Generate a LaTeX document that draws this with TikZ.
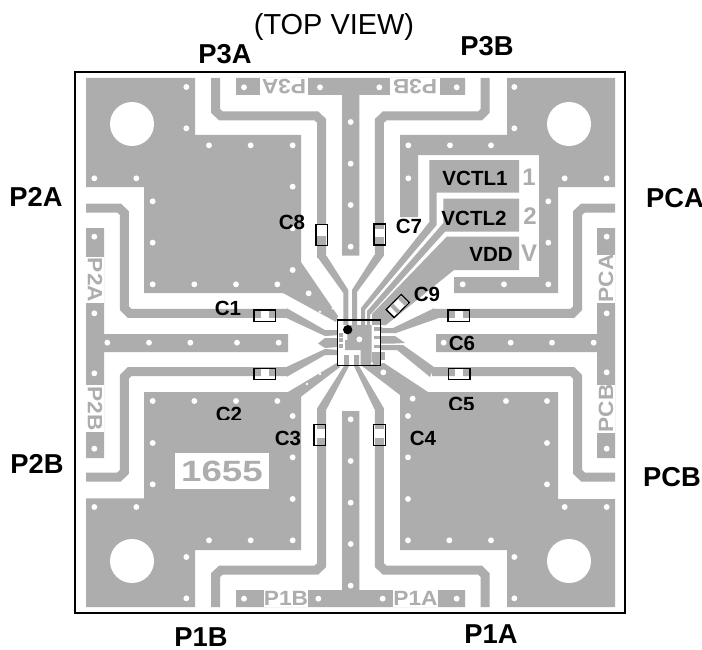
\documentclass[tikz,border=0pt]{standalone}
\usepackage{fontspec}
\setmainfont{Liberation Sans}
\definecolor{cu}{HTML}{ADADAD}
\newcommand\blk[1]{\scalebox{1.1}[1]{\bfseries #1}}
\tikzset{
  cu/.style={fill=cu,draw=none},
  trace/.style={draw=cu,line width=6.75pt,line cap=butt,line join=miter},
  via/.style={fill=white,draw=none},
  pin/.style={draw=cu,line width=2.4pt,line cap=butt},
  lab/.style={font=\fontsize{20.5}{22}\selectfont\bfseries,inner sep=0pt},
  clab/.style={font=\fontsize{15.4}{16}\selectfont\bfseries,inner sep=0pt},
  silk/.style={text=cu,fill=white,inner sep=0pt,font=\fontsize{15.5}{16}\selectfont},
  capa/.style={draw=black,line width=1pt,fill=none,inner sep=0pt,minimum width=21.3*0.75pt,minimum height=11.3*0.75pt},
  capb/.style={capa,minimum width=11.5*0.75pt,minimum height=21*0.75pt},
}
\begin{document}
\begin{tikzpicture}[x=0.75pt,y=-0.75pt]
\useasboundingbox (0,0) rectangle (702,649);
\fill[white] (0,0) rectangle (702,649);
% ground pads
\fill[cu] (86,78)--(195,78)--(195,135)--(301,135)--(301,262)--(338,316)--(336,322)--(283,293)--(144,293)--(144,187)--(86,187)--cycle;
\fill[cu] (86,607)--(195,607)--(195,550)--(301,550)--(301,396.7)--(340,367)--(336.7,363)--(288,392)--(144,392)--(144,498.3)--(86,498.3)--cycle;
\fill[cu] (507,607)--(615,607)--(615,499)--(558,499)--(558,392)--(428,392)--(384,363)--(362,366)--(400,395)--(400,550)--(507,550)--cycle;
\fill[cu] (507,78)--(615,78)--(615,187)--(558,187)--(558,293)--(454,293)--(454,277)--(539,277)--(539,155)--(418,155)--(418,217)--(400,217)--(400,135)--(507,135)--cycle;
% centre stems and edge strips
\fill[cu] (236,78)--(465,78)--(465,95)--(359.3,95)--(359.3,255.7)--(342,255.7)--(342,95)--(236,95)--cycle;
\fill[cu] (236,607)--(465,607)--(465,590)--(359.3,590)--(359.3,411)--(342,411)--(342,590)--(236,590)--cycle;
\fill[cu] (86,228)--(104,228)--(104,334)--(288,334)--(288,352)--(104,352)--(104,458)--(86,458)--cycle;
\fill[cu] (615,228)--(597,228)--(597,334)--(436,334)--(436,352)--(597,352)--(597,458)--(615,458)--cycle;
% traces
\draw[trace] (215.7,78)--(215.7,111)--(221,116)--(316.5,116)--(321.7,121)--(321.7,258);
\draw[trace] (485,78)--(485,111)--(480,116)--(384.5,116)--(379.3,121)--(379.3,256);
\draw[trace] (215.7,607)--(215.7,575)--(221,570)--(316.5,570)--(321.7,565)--(321.7,409);
\draw[trace] (485,607)--(485,575)--(480,570)--(384.5,570)--(379.3,565)--(379.3,409);
\draw[trace] (86,208)--(119,208)--(124.3,213)--(124.3,308)--(129.5,313.3)--(288,313.3);
\draw[trace] (86,477)--(119,477)--(124.3,472)--(124.3,377)--(129.5,371.7)--(288,371.7);
\draw[trace] (615,208)--(583,208)--(577.7,213)--(577.7,308)--(572.5,313.3)--(432,313.3);
\draw[trace] (615,477)--(583,477)--(577.7,472)--(577.7,377)--(572.5,371.7)--(432,371.7);
% tapers to the chip
\fill[cu] (316.7,256)--(343.3,293)--(343.3,325)--(348.3,325)--(348.3,290)--(326.7,256)--cycle;
\fill[cu] (374.3,255)--(352,290)--(352,325)--(357,325)--(357,292)--(384.3,255)--cycle;
\fill[cu] (316.7,409)--(344,366)--(344,355)--(349,355)--(349,366)--(326.7,409)--cycle;
\fill[cu] (374.3,409)--(354,366)--(354,355)--(359,355)--(359,366)--(384.3,409)--cycle;
\fill[cu] (287,308.3)--(325,330)--(340,330)--(340,335)--(325,336)--(287,318.3)--cycle;
\fill[cu] (287,376.7)--(325,355)--(340,355)--(340,350)--(325,349)--(287,366.7)--cycle;
\fill[cu] (434,308.3)--(393,328)--(381,328)--(381,333)--(396,333)--(438,318.3)--cycle;
\fill[cu] (434,367)--(403,345)--(381,345)--(381,350)--(397,350)--(430,377)--cycle;
\fill[cu] (338,338)--(325,338)--(318,343.5)--(325,348)--(338,347)--cycle;
\fill[cu] (381,336)--(395,336)--(405,343)--(395,343.5)--(381,343.5)--cycle;
% control pads
\fill[cu] (429.3,160)--(519,160)--(519,192.7)--(436.7,192.7)--(436.7,225)--(365,310)--(365,325)--(361,325)--(361,308)--(429.3,222)--cycle;
\fill[cu] (443.3,198.7)--(519,198.7)--(519,231.7)--(445,231.7)--(370,315)--(370,325)--(367,325)--(367,311)--(443.3,223)--cycle;
\fill[cu] (446.7,236.7)--(519,236.7)--(519,270)--(454,270)--(386,325)--(375,325)--(372,325)--(372,314)--cycle;
% chip interior
\fill[white] (338,325) rectangle (381,355);
\fill[white] (338,355) rectangle (344,366);
\fill[white] (349,355) rectangle (354,366);
\fill[cu] (347.3,325)--(371.7,325)--(371.7,366)--(360.5,366)--(360.5,350)--(345,350)--(345,340)--(347.3,340)--cycle;
\foreach \yy in {329,337.7,346.3} {\draw[pin] (374,\yy)--(382,\yy);}
\fill[cu] (371.7,352) rectangle (385,360);
\fill[cu] (371.7,360) rectangle (380,366);
\foreach \yy in {335,340,346} {\draw[pin] (339,\yy)--(343,\yy);}
% vias
\foreach \a/\b in {349/81,349/205,417/256,542/256,668/256,668/380,668/505,668/630,716/700,73/355,199/355,248/424,248/548,248/673,373/673,498/673,622/673,842/186,842/311,842/435,842/560,522/82,750/82,73/530,73/760,112/848,237/848,361/848,501/848,626/848}
  {\fill[via] ({70+\a/3},{60+\b/3}) circle[radius=2.2pt];}
\foreach \a/\b in {88/82,320/82,493/81,493/205,175/256,300/256,423/256,175/355,644/355,770/355,595/424,595/548,595/673,462/673,338/673,770/530,770/760,281/848,482/848,606/848,731/848,28/838}
  {\fill[via] ({350+\a/3},{60+\b/3}) circle[radius=2.2pt];}
\foreach \a/\b in {73/130,73/356,248/213,373/213,498/213,622/213,668/258,248/339,668/382,248/463,668/507,73/531,199/531,417/631,542/631,668/631,349/681,349/805,842/268,842/393,842/518,842/642,842/767,522/806,745/806}
  {\fill[via] ({70+\a/3},{330+\b/3}) circle[radius=2.2pt];}
\foreach \a/\b in {98/806,320/806,188/206,174/258,174/382,174/507,174/631,298/631,423/631,468/213,591/213,591/339,591/463,644/531,770/531,493/681,493/805,770/127,770/356,100/127}
  {\fill[via] ({350+\a/3},{330+\b/3}) circle[radius=2.2pt];}
\foreach \p in {(320,311.7),(332.7,308.3),(333,363),(320,374),(307,384),(372,363.5)}
  {\fill[via] \p circle[radius=1pt];}
% mounting holes
\foreach \p in {(132,124),(132,561),(569,124),(569,561)} {\fill[white] \p circle[radius=16.5pt];}
% silk-screen labels
\node[silk,minimum width=36pt,minimum height=12.75pt,rotate=180] (sP3A) at (284,86.5) {\blk{P3A}};
\node[silk,minimum width=37pt,minimum height=12.75pt,rotate=180] (sP3B) at (415,86.5) {\blk{P3B}};
\node[silk,minimum width=32pt,minimum height=12.75pt] (sP1B) at (286,598.5) {\blk{P1B}};
\node[silk,minimum width=31pt,minimum height=12.75pt] (sP1A) at (415.5,598.5) {\blk{P1A}};
\node[silk,minimum width=35pt,minimum height=14pt,rotate=-90] (sP2A) at (95,280) {\blk{P2A}};
\node[silk,minimum width=35pt,minimum height=14pt,rotate=-90] (sP2B) at (95,408.5) {\blk{P2B}};
\node[silk,minimum width=33pt,minimum height=14pt,rotate=90] (sPCA) at (606,278.5) {\blk{PCA}};
\node[silk,minimum width=35pt,minimum height=14pt,rotate=90] (sPCB) at (606,408.5) {\blk{PCB}};
\node[fill=white,text=cu,inner sep=0pt,minimum width=70.5pt,minimum height=27pt,font=\fontsize{22}{24}\selectfont\bfseries] (s1655) at (222,471) {\scalebox{1.25}[1]{1655}};
\node[text=cu,inner sep=0pt,font=\fontsize{18}{20}\selectfont\bfseries] (s1) at (529,177) {1};
\node[text=cu,inner sep=0pt,font=\fontsize{18}{20}\selectfont\bfseries] (s2) at (530,216) {2};
\node[text=cu,inner sep=0pt,font=\fontsize{18}{20}\selectfont\bfseries] (sV) at (529,253) {V};
% capacitors
\foreach \n/\x/\y/\s in {1/264.6/315.6/2,2/264.6/374/2,6/458.6/315.6/2,5/459.4/374/2}
  {\fill[white] (\x-4,\y-5) rectangle (\x+4,\y+5);}
\fill[white] (317,225) rectangle (326.5,236);
\fill[white] (375,229) rectangle (385,237);
\fill[white] (315,429) rectangle (325,438);
\fill[white] (375,429) rectangle (385,438);
\node[capa] (cC1) at (264.6,315.6) {};
\node[capa] (cC2) at (264.6,374) {};
\node[capa] (cC6) at (458.6,315.6) {};
\node[capa] (cC5) at (459.4,374) {};
\node[capb] (cC8) at (321.7,234.8) {};
\node[capb] (cC7) at (379.8,234.4) {};
\node[capb] (cC3) at (319.8,434.8) {};
\node[capb] (cC4) at (379.5,434.8) {};
\node[capa,fill=white,rotate=45] (cC9) at (397.7,306) {};
\fill[cu,rotate around={45:(397.7,306)}] (392,300.8) rectangle (396,311.2);
\fill[cu,rotate around={45:(397.7,306)}] (403,300.8) rectangle (407.2,311.2);
% chip outline
\node[draw=black,line width=1.1pt,minimum width=32.2pt,minimum height=34.2pt,inner sep=0pt] (chip) at (359.2,342.8) {};
\fill[black] (347.7,329.7) circle[radius=3.5pt];
% board outline
\node[draw=black,line width=1.2pt,minimum width=412.5pt,minimum height=405.75pt,inner sep=0pt] (board) at (350,342.5) {};
% labels
\node[font=\fontsize{21.7}{23}\selectfont,inner sep=0pt] (top) at (334,27) {(TOP VIEW)};
\node[lab] (P3A) at (225,54) {P3A};
\node[lab] (P3B) at (487,46) {P3B};
\node[lab] (P2A) at (36,197) {P2A};
\node[lab] (PCA) at (675,198) {PCA};
\node[lab] (P2B) at (37,464) {P2B};
\node[lab] (PCB) at (672,477) {PCB};
\node[lab] (P1B) at (201,637) {P1B};
\node[lab] (P1A) at (491,634) {P1A};
\node[clab] (C8) at (292,222) {C8};
\node[clab] (C7) at (409,226) {C7};
\node[clab] (C1) at (228,308) {C1};
\node[clab] (C9) at (427,294) {C9};
\node[clab] (C6) at (462,343) {C6};
\node[clab] (C3) at (288,438) {C3};
\node[clab] (C4) at (423,438) {C4};
\node[clab] (V1) at (475,178) {VCTL1};
\node[clab] (V2) at (474,218) {VCTL2};
\node[clab] (VD) at (491,254) {VDD};
\begin{scope}
\clip (200,400) rectangle (260,419.5);
\node[clab] (C2) at (229,414.5) {C2};
\end{scope}
\begin{scope}
\clip (440,390) rectangle (480,409.5);
\node[clab] (C5) at (461.5,404.2) {C5};
\end{scope}
\end{tikzpicture}
\end{document}
